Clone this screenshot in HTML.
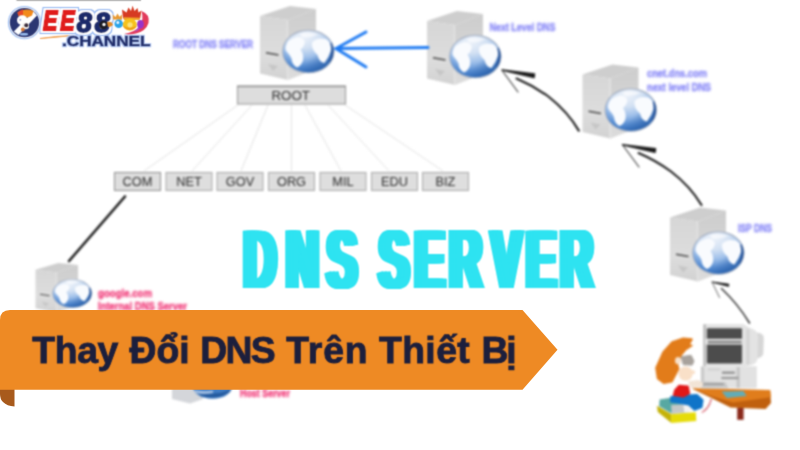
<!DOCTYPE html>
<html lang="vi">
<head>
<meta charset="utf-8">
<title>Thay Đổi DNS Trên Thiết Bị</title>
<style>
html,body{margin:0;padding:0;background:#fff;}
body{width:800px;height:450px;overflow:hidden;position:relative;font-family:"Liberation Sans",sans-serif;}
svg{position:absolute;left:0;top:0;display:block;font-family:"Liberation Sans",sans-serif;}
</style>
</head>
<body>
<svg width="800" height="450" viewBox="0 0 800 450">
<defs>
  <filter id="b1" x="-5%" y="-5%" width="110%" height="110%" color-interpolation-filters="sRGB"><feGaussianBlur stdDeviation="0.9"/></filter>
  <filter id="b07" x="-5%" y="-5%" width="110%" height="110%" color-interpolation-filters="sRGB"><feConvolveMatrix order="3" kernelMatrix="1 2 1 2 4 2 1 2 1" divisor="16" edgeMode="none" preserveAlpha="false"/></filter>
  <filter id="b05" x="-5%" y="-5%" width="110%" height="110%" color-interpolation-filters="sRGB"><feConvolveMatrix order="3" kernelMatrix="1 3 1 3 9 3 1 3 1" divisor="25" edgeMode="none" preserveAlpha="false"/></filter>
  <filter id="fat" x="-5%" y="-10%" width="110%" height="120%" color-interpolation-filters="sRGB"><feOffset in="SourceGraphic" dx="-4" dy="0" result="a"/><feOffset in="SourceGraphic" dx="-2.7" dy="0" result="a2"/><feOffset in="SourceGraphic" dx="-1.3" dy="0" result="a3"/><feOffset in="SourceGraphic" dx="1.3" dy="0" result="b3"/><feOffset in="SourceGraphic" dx="2.7" dy="0" result="b2"/><feOffset in="SourceGraphic" dx="4" dy="0" result="b"/><feMerge result="m"><feMergeNode in="a"/><feMergeNode in="a2"/><feMergeNode in="a3"/><feMergeNode in="SourceGraphic"/><feMergeNode in="b3"/><feMergeNode in="b2"/><feMergeNode in="b"/></feMerge><feConvolveMatrix in="m" order="3" kernelMatrix="1 2 1 2 4 2 1 2 1" divisor="16" edgeMode="none" preserveAlpha="false"/></filter>
  <filter id="halo" x="-10%" y="-20%" width="120%" height="140%"><feMorphology in="SourceAlpha" operator="dilate" radius="3.4" result="d"/><feFlood flood-color="#8fb4f0"/><feComposite in2="d" operator="in" result="h"/><feMorphology in="SourceAlpha" operator="dilate" radius="2" result="d1"/><feFlood flood-color="#ffffff"/><feComposite in2="d1" operator="in" result="w"/><feMerge><feMergeNode in="h"/><feMergeNode in="w"/><feMergeNode in="SourceGraphic"/></feMerge></filter>
  <filter id="halo2" x="-10%" y="-30%" width="120%" height="160%"><feMorphology in="SourceAlpha" operator="dilate" radius="1.1" result="d"/><feFlood flood-color="#b4c9f4"/><feComposite in2="d" operator="in" result="h"/><feMerge><feMergeNode in="h"/><feMergeNode in="SourceGraphic"/></feMerge></filter>
  <linearGradient id="fl" x1="0" y1="0" x2="0" y2="1">
    <stop offset="0" stop-color="#d6d6d6"/><stop offset="0.6" stop-color="#dddddd"/><stop offset="1" stop-color="#d2d2d2"/>
  </linearGradient>
  <linearGradient id="fr" x1="0" y1="0" x2="0" y2="1">
    <stop offset="0" stop-color="#cdcdcd"/><stop offset="1" stop-color="#dcdcdc"/>
  </linearGradient>
  <radialGradient id="gl" cx="0.42" cy="0.12" r="1.0">
    <stop offset="0" stop-color="#eef3fa"/><stop offset="0.3" stop-color="#d3e1f3"/><stop offset="0.52" stop-color="#9fc0ea"/><stop offset="0.72" stop-color="#5b90d4"/><stop offset="0.9" stop-color="#3270c0"/><stop offset="1" stop-color="#2c62aa"/>
  </radialGradient>
  <linearGradient id="gsh" x1="0" y1="0" x2="1" y2="1">
    <stop offset="0.6" stop-color="#1d4f95" stop-opacity="0"/><stop offset="1" stop-color="#1d4f95" stop-opacity="0.8"/>
  </linearGradient>
  <g id="server">
    <path d="M0,10 L30,0 L56,3 L28,14 Z" fill="#cecece"/>
    <path d="M0,10 L28,14 L28,74 L0,67.500 Z" fill="url(#fl)"/>
    <path d="M28,14 L56,3 L56,63 L28,74 Z" fill="url(#fr)"/>
    <path d="M27.500,14 L27.500,74" stroke="#e6e6e6" stroke-width="1.200" fill="none"/>
    <path d="M6,46.800 L18.500,49" stroke="#4a4a4a" stroke-width="1.500" fill="none"/>
    <path d="M8,58 L18,60 L13,65 Z" fill="#c6c6c6"/>
    <ellipse cx="48.300" cy="45.500" rx="26.200" ry="21.800" fill="#a4afc2"/>
    <ellipse cx="48.300" cy="45.500" rx="25.100" ry="20.700" fill="url(#gl)"/>
    <ellipse cx="48.300" cy="45.500" rx="25.100" ry="20.700" fill="url(#gsh)"/>
    <g fill="#f9fbfe">
      <path d="M25.500,41 Q27,33 37,31 Q44,31 45,36.500 Q44,41 40.500,43.500 Q44,48 43,54.500 Q41,60 37,61.500 Q32,59 31.500,52.500 Q30,49 27,46 Q25,44 25.500,41 Z"/>
      <path d="M52,36.500 Q57,31 66,33 Q72,36.500 71,44.500 Q69,51 64.500,57 Q59,56 57.500,49 Q51,43.500 52,36.500 Z"/>
      <path d="M40,28 Q49,25.500 58,28.500 Q51,32 42,31 Z" opacity="0.75"/>
    </g>
    <path d="M71,37 Q75.500,46 69.500,56 Q73.500,47 71,37 Z" fill="#244f94" stroke="#244f94" stroke-width="1.500" opacity="0.85"/>
  </g>
</defs>
<rect width="800" height="450" fill="#fff"/>

<!-- DIAGRAM -->
<g id="diagram" filter="url(#b1)">
  <g stroke="#dedede" stroke-width="0.9" fill="none">
    <path d="M238,105 L144,171"/><path d="M252,105 L192,171"/><path d="M268,105 L241,171"/>
    <path d="M291.500,105 L291.500,171"/><path d="M305,105 L341,171"/><path d="M328,105 L389,171"/><path d="M345,105 L443,171"/>
  </g>
  <rect x="237.500" y="86.500" width="108" height="17.500" fill="#dddddd" stroke="#9c9c9c" stroke-width="1.100"/>
  <path d="M237,86.300 L346,86.300" stroke="#8c8c8c" stroke-width="1.6"/>
  <text x="271.500" y="99.700" font-size="12" fill="#2c2c2c" textLength="38.500" lengthAdjust="spacingAndGlyphs">ROOT</text>
  <g font-size="12.800" text-anchor="middle" fill="#2c2c2c">
    <rect x="114.500" y="172.500" width="46" height="18" fill="#dedede" stroke="#8c8c8c"/><text x="137.500" y="186.300">COM</text>
    <rect x="166" y="172.500" width="46" height="18" fill="#dedede" stroke="#a6a6a6"/><text x="189" y="186.300">NET</text>
    <rect x="217" y="172.500" width="46" height="18" fill="#dedede" stroke="#a6a6a6"/><text x="240" y="186.300">GOV</text>
    <rect x="268.500" y="172.500" width="46" height="18" fill="#dedede" stroke="#a6a6a6"/><text x="291.500" y="186.300">ORG</text>
    <rect x="320" y="172.500" width="46" height="18" fill="#dedede" stroke="#a6a6a6"/><text x="343" y="186.300">MIL</text>
    <rect x="371.500" y="172.500" width="46" height="18" fill="#dedede" stroke="#a6a6a6"/><text x="394.500" y="186.300">EDU</text>
    <rect x="422.500" y="172.500" width="46" height="18" fill="#dedede" stroke="#a6a6a6"/><text x="445.500" y="186.300">BIZ</text>
  </g>
  <!-- servers -->
  <use href="#server" x="260" y="6"/>
  <use href="#server" x="427" y="11"/>
  <use href="#server" x="582.500" y="64.500"/>
  <use href="#server" x="670" y="207.500"/>
  <g transform="translate(35.500,263) scale(0.76,0.67)"><use href="#server"/></g>
  <path d="M172,385 L203,385 L203,399 L190,403.500 L172,399 Z" fill="#d4d6da"/>
  <ellipse cx="212.500" cy="385.500" rx="20" ry="13.300" fill="#3f7cc4"/>
  <path d="M196,392 Q212,402 230,391 Q214,397 196,392 Z" fill="#245a9e" stroke="#245a9e" stroke-width="1.500"/>
  <path d="M194,390 Q203,392 213,390.500 L213,393 Q203,395 196,393 Z" fill="#a9c4e6"/>
  <!-- blue arrow -->
  <g stroke="#1f7bf2" stroke-width="3" fill="none" stroke-linecap="round">
    <path d="M337,48.500 L428,47.500"/><path d="M366,32 L336,48.500 L366,67"/>
  </g>
  <!-- black arrows -->
  <g stroke="#1c1c1c" fill="none" stroke-linecap="round">
    <path d="M578.800,130.600 Q568,112 549,97 Q534,86 516.500,78.500" stroke-width="2.100"/>
    <path d="M502,70 L534.500,74 L534,77.600 Z" fill="#1c1c1c" stroke-width="1.500" stroke-linejoin="round"/>
    <path d="M502.500,71 L518,92" stroke-width="1.100" stroke="#3a3a3a"/>
    <path d="M701.500,205 Q690,186 671,171.500 Q656,160.500 638.500,153" stroke-width="2.100"/>
    <path d="M622.500,144.700 L655.500,148.700 L655,152.300 Z" fill="#1c1c1c" stroke-width="1.500" stroke-linejoin="round"/>
    <path d="M623,145.500 L639,167" stroke-width="1.100" stroke="#3a3a3a"/>
    <path d="M749.500,323 Q738,304 721.500,288.500" stroke-width="1.500" stroke="#333"/>
    <path d="M712,282 L728.700,284.200 L728.500,286.200 Z" fill="#1c1c1c" stroke-width="1.100" stroke-linejoin="round"/>
    <path d="M712.500,283 L719.500,297.500" stroke-width="0.900" stroke="#555"/>
    <path d="M125,196.500 L69,261" stroke-width="2.600"/>
  </g>
  <!-- labels -->
  <g font-size="11.500" font-weight="bold" fill="#8c8cf7" stroke="#8c8cf7" stroke-width="0.500" filter="url(#b07)">
    <text x="173" y="47.500" textLength="80" lengthAdjust="spacingAndGlyphs">ROOT DNS SERVER</text>
    <text x="489.500" y="31.300" textLength="66" lengthAdjust="spacingAndGlyphs">Next Level DNS</text>
    <text x="647" y="77" textLength="60" lengthAdjust="spacingAndGlyphs">cnet.dns.com</text>
    <text x="647" y="90.500" textLength="64" lengthAdjust="spacingAndGlyphs">next level DNS</text>
    <text x="738" y="232" textLength="34" lengthAdjust="spacingAndGlyphs">ISP DNS</text>
  </g>
  <g font-size="11" font-weight="bold" fill="#f03c7a" stroke="#f03c7a" stroke-width="0.400" filter="url(#b07)">
    <text x="98" y="297" textLength="54" lengthAdjust="spacingAndGlyphs">google.com</text>
    <text x="98" y="310" textLength="89" lengthAdjust="spacingAndGlyphs">Internal DNS Server</text>
    <text x="240" y="396.800" textLength="50" lengthAdjust="spacingAndGlyphs">Host Server</text>
  </g>
</g>

<!-- DNS SERVER -->
<g id="dnstitle">
  <g filter="url(#fat)"><text transform="translate(243.750,288.200) scale(0.447,0.838)" x="0 95.100 186.200 250 302.600 382.600 460.300 554.300 632 708.900" y="0" font-size="100" font-weight="bold" fill="#2ee3f1">DNS SERVER</text></g>
</g>

<!-- KID -->
<g id="kid" filter="url(#b1)">
  <path d="M656.9,405.8 L671.1,413.9 L671.1,422.8 L657.8,412.0 Z" fill="#c4b208"/>
  <path d="M671.1,413.9 L695.8,412.2 L696.3,420.9 L671.1,422.9 Z" fill="#e6dc08"/>
  <path d="M659.6,399.6 L672.2,397.6 L683.3,403.9 L671.1,413.3 L659.2,406.2 Z" fill="#58a8a2"/>
  <path d="M671.1,405.0 L686.7,403.9 L688.9,412.2 L671.7,413.9 Z" fill="#c4c8c8"/>
  <path d="M683.3,404.7 L690.6,404.2 L691.3,411.3 L684.4,412.2 Z" fill="#f4f4f4"/>
  <rect x="737.2" y="407.5" width="6.4" height="12.3" rx="0" fill="#8a2a1c"/>
  <path d="M692.3,388.8 L721.6,389.6 L770.2,390.9 L771.0,403.1 L765.6,409.0 L730.6,407.5 L711.9,398.3 Z" fill="#c0600e"/>
  <path d="M692.3,388.3 L721.6,388.8 L770.2,390.1 L771.0,397.3 L733.1,402.4 L711.9,396.2 Z" fill="#e07d1c"/>
  <path d="M721.6,391.4 L743.4,390.9 L746.7,396.0 L726.8,398.0 Z" fill="#62acb6"/>
  <path d="M711.1,399.4 Q708.9,408.3 702.0,412.4" stroke="#c8283a" stroke-width="1.3" stroke-dasharray="2.2 0.8" fill="none"/>
  <rect x="700.7" y="366.2" width="56.2" height="22.1" rx="1" fill="#e2e2e2"/>
  <rect x="701.0" y="366.6" width="3.2" height="21.4" rx="0" fill="#cacaca"/>
  <rect x="736.6" y="367.0" width="3.2" height="21.0" rx="0" fill="#c6c6c6"/>
  <rect x="722.0" y="371.6" width="12.8" height="2.1" rx="0" fill="#8c8c8c"/>
  <rect x="721.3" y="376.9" width="17.1" height="2.2" rx="0" fill="#9a9a9a"/>
  <rect x="707.8" y="368.4" width="12.4" height="2.1" rx="0" fill="#d0d0d0"/>
  <path d="M700.3,381.2 L725.6,382.3 L728.3,388.3 L700.7,388.3 Z" fill="#c8c8c8"/>
  <rect x="702.5" y="383.5" width="21.3" height="1.4" rx="0" fill="#8e8e8e"/>
  <path d="M755.8,332.8 Q763.8,332.8 763.8,338.1 L763.3,353.3 Q763.0,357.7 755.8,358.6 Z" fill="#d6d6d6"/>
  <path d="M743.4,324.3 L750.5,328.3 Q758.0,330.1 758.0,336.4 L757.6,357.7 Q757.3,363.9 750.5,365.2 L743.4,366.2 Z" fill="#e3e3e3"/>
  <rect x="746.6" y="329.2" width="2.8" height="35.6" rx="0" fill="#d2d2d2"/>
  <rect x="703.3" y="323.9" width="41.1" height="42.3" rx="1.5" fill="#e4e4e4"/>
  <rect x="703.3" y="324.3" width="2.7" height="41.6" rx="0" fill="#bcbcbc"/>
  <rect x="706.9" y="328.2" width="35.1" height="35.2" rx="1" fill="#4c4c4c"/>
  <rect x="704.9" y="338.8" width="38.5" height="5.7" rx="0" fill="#e6e6e6"/>
  <rect x="707.8" y="341.0" width="33.8" height="1.8" rx="0" fill="#6a6a6a"/>
  <path d="M671.1,396.7 L683.3,395.6 L696.7,394.7 L702.8,400.0 L701.7,407.2 L694.4,410.0 L688.9,404.7 L677.8,402.8 L670.9,401.7 Z" fill="#0f74c8" stroke="#0f74c8" stroke-width="1.6" stroke-linejoin="round"/>
  <path d="M679.1,385.6 L688.0,386.4 L689.4,393.3 L683.3,396.7 L673.6,395.3 L675.0,390.0 Z" fill="#e01818" stroke="#e01818" stroke-width="1.6" stroke-linejoin="round"/>
  <path d="M691.8,339.3 L683.3,338.4 L672.2,342.2 L663.3,352.2 L656.2,367.8 L657.8,378.4 L663.8,382.9 L671.8,381.6 L674.9,375.6 L678.4,368.9 L677.1,363.3 L681.1,354.9 L686.7,348.2 Z" fill="#e27c1a" stroke="#e27c1a" stroke-width="2" stroke-linejoin="round"/>
  <path d="M683.3,341.1 L692.7,338.9 L688.9,343.8 L693.3,345.6 L686.7,350.0 Z" fill="#e27c1a"/>
  <ellipse cx="678.0" cy="360.7" rx="3" ry="3.6" fill="#f8e2cc"/>
  <path d="M681.1,356.7 L691.1,355.3 L694.0,361.1 L692.2,365.1 L683.3,364.7 Z" fill="#a8a29c" stroke="#a8a29c" stroke-width="1" stroke-linejoin="round"/>
  <ellipse cx="685.6" cy="373.6" rx="7.2" ry="7.2" fill="#f9e0c8"/>
  <ellipse cx="692.7" cy="372.2" rx="2.4" ry="2" fill="#f9e0c8"/>
  <path d="M687.8,381.6 L697.8,380.0 L703.3,382.9 L702.2,387.3 L691.1,388.2 Z" fill="#f2e4d6"/>
</g>

<!-- BANNER -->
<g id="banner">
  <path d="M-6,389 L14.500,389 L14.500,406.500 Q7,406 3,402 Q0,399 0,394 L-6,394 Z" fill="#a85a1c"/>
  <path d="M-6,320 Q0,320 0,320 Q0,310 10,310 L522.500,310 L557.500,349.800 L522.500,389.700 L-6,389.700 Z" fill="#ee8a24"/>
  <text filter="url(#b05)" y="362.700" font-size="37.300" font-weight="bold" fill="#1c1f3d" stroke="#1c1f3d" stroke-width="0.900"><tspan x="32.200" letter-spacing="-0.300">Thay </tspan><tspan x="129.500">Đổi </tspan><tspan x="200.300" letter-spacing="-1.700">DNS </tspan><tspan x="286.200" letter-spacing="0.900">Trên </tspan><tspan x="379" letter-spacing="0.400">Thiết </tspan><tspan x="481.600" letter-spacing="-2.200">Bị</tspan></text>
</g>

<!-- LOGO -->
<g id="logo" filter="url(#b05)">
  <!-- top hairline -->
  <rect x="16.500" y="-4" width="124.500" height="4.700" fill="#909090"/>
  <!-- emblem -->
  <circle cx="24.500" cy="22.600" r="16.700" fill="#9abcf2"/>
  <circle cx="24.500" cy="22.600" r="15.600" fill="#ffffff"/>
  <circle cx="24.500" cy="22.600" r="14.700" fill="#2a3672"/>
  <path d="M13.800,31.500 L33.500,11.500 L37,15.500 L18.500,35 Z" fill="#ffffff"/>
  <path d="M17.500,12.500 Q24,7.500 33.500,11 L32,15.500 Q28,18 25,17.500 Q21,14.500 18.500,16 Z" fill="#f28a1c"/>
  <path d="M17.500,12.500 Q20,10 23,9.300 L23,15.500 Q20,14.500 18.500,16 Z" fill="#e8482a"/>
  <ellipse cx="22.300" cy="20.300" rx="5.300" ry="5" fill="#ffffff"/>
  <ellipse cx="25.500" cy="26" rx="3.600" ry="3.200" fill="#f4f0ec"/>
  <circle cx="26.300" cy="25.200" r="2" fill="#3a2c3c"/>
  <circle cx="22.800" cy="29.500" r="1.900" fill="#d47a3a"/>
  <circle cx="20.300" cy="19.800" r="0.900" fill="#8a94c8"/>
  <ellipse cx="24" cy="34.300" rx="4.200" ry="1.300" fill="#9cc0f0"/>
  <!-- swoosh -->
  <path d="M40,38.500 Q55,36 72,35.500 Q56,37.600 40,38.500 Z" fill="#f0a050" stroke="#f0a050" stroke-width="0.8"/>
  <path d="M141.500,11 Q150,14 148.500,23 Q146,31 136,33.500 Q129,35 124,34 Q135,32 140,26 Q144,20 141.500,11 Z" fill="#e23a5a"/>
  <path d="M142,21 Q143,29 134,32.500 Q139,28 139.500,21.500 Z" fill="#a44bd0"/>
  <!-- EE88 -->
  <g font-weight="bold" font-style="italic" font-size="27" stroke-linejoin="miter" filter="url(#halo)">
    <text y="30.300" fill="#e01b1b" stroke="#e01b1b" stroke-width="1.900"><tspan x="43" textLength="14.400" lengthAdjust="spacingAndGlyphs">E</tspan><tspan x="60.300" textLength="14.400" lengthAdjust="spacingAndGlyphs">E</tspan><tspan x="76.800 94.800" dy="1.200" fill="#1f2a6b" stroke="#1f2a6b">88</tspan></text>
  </g>
  <!-- 8 ball -->
  <circle cx="103.500" cy="25" r="4.300" fill="#1a1a22"/>
  <circle cx="104" cy="24.500" r="1.700" fill="#f4f4f4"/>
  <path d="M107,22 Q112,21 113,25 Q111,27 108,27 Z" fill="#e08a2a"/>
  <!-- crown + balls -->
  <path d="M123,18.500 L122,9.500 L126.500,12.500 L128.500,7.500 L131,11 L132.600,5.800 L134.500,11 L137.500,8 L138.500,12.500 L141.500,10.500 L140,19 Z" fill="#d63a22"/>
  <path d="M123.500,17.300 L140,17.800 L139.500,20 L124,20 Z" fill="#f0a42a"/>
  <path d="M113,19.500 L112.700,14.500 L115.500,17 L117.500,13.500 L119.500,16.800 L122,14.500 L122,19.800 Z" fill="#e89a34"/>
  <circle cx="118.700" cy="23.700" r="4.300" fill="#2aa4ea"/>
  <circle cx="117.800" cy="22.500" r="1.500" fill="#e8f4ff"/>
  <ellipse cx="140.500" cy="24.300" rx="3.300" ry="4.200" fill="#9a32c8"/>
  <ellipse cx="129.800" cy="24.600" rx="7" ry="6" fill="#f6c21c"/>
  <path d="M123.500,26.500 Q129.800,33 136.300,26.500 Q130,30 123.500,26.500 Z" fill="#ee9a1a" stroke="#ee9a1a" stroke-width="0.800"/>
  <circle cx="130" cy="24.800" r="2.600" fill="#fbe27a"/>
  <!-- .CHANNEL -->
  <g font-weight="bold" font-size="14" filter="url(#halo2)">
    <text x="62" y="45.700" fill="#1f2a6b" stroke="#1f2a6b" stroke-width="0.500" textLength="88.500" lengthAdjust="spacingAndGlyphs">.CHANNEL</text>
  </g>
</g>
</svg>
</body>
</html>
